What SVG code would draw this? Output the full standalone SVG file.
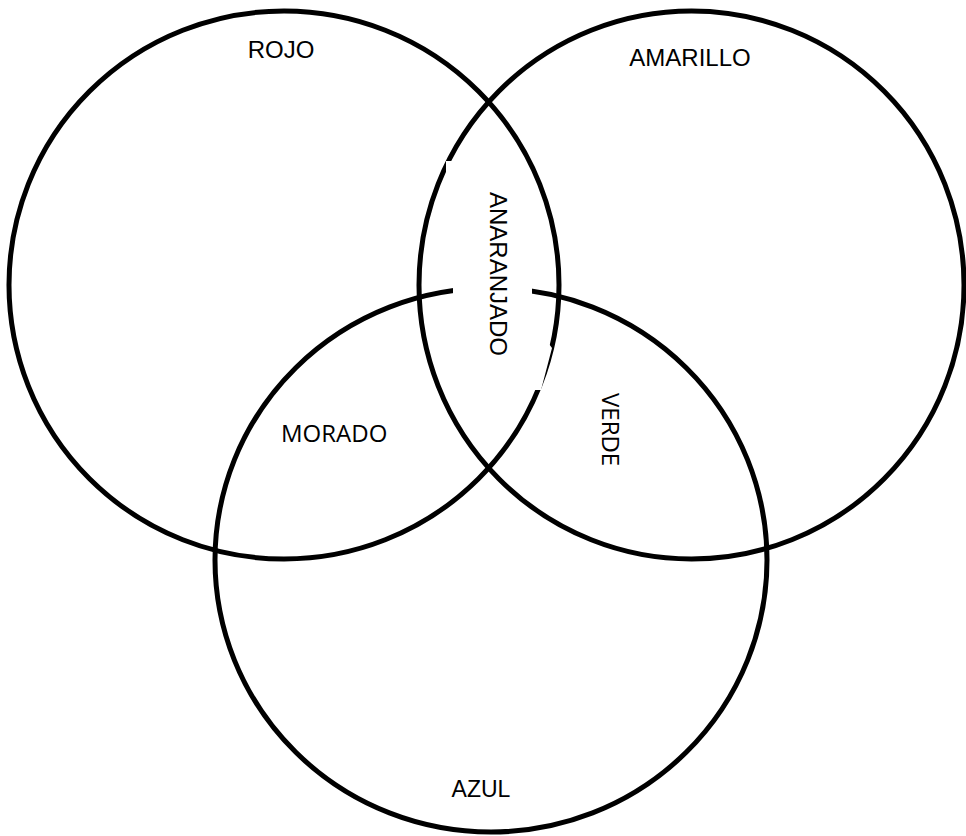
<svg xmlns="http://www.w3.org/2000/svg" width="966" height="836" viewBox="0 0 966 836">
<style>
.ring{fill:none;stroke:#000;stroke-width:5}
.lbl{font-family:"Liberation Sans",Arial,sans-serif;fill:#000}
.lbl2{font-family:"Open Sans","Noto Sans",sans-serif;fill:#000}
.mask{fill:#fff;stroke:none}
</style>
<rect width="966" height="836" fill="#fff"/>
<g id="rojo">
<ellipse class="ring" cx="284" cy="285" rx="275" ry="274"/>
</g>
<g id="amarillo">
<ellipse class="ring" cx="691.5" cy="285" rx="272.5" ry="274"/>
</g>
<polygon class="mask" points="446,161 523,161 549,344 552,348 541,390 446,390"/>
<g id="azul">
<ellipse class="ring" cx="491" cy="560" rx="276" ry="272"/>
</g>
<rect class="mask" x="453" y="278" width="79" height="24"/>
<g id="labels">
<text class="lbl" x="281" y="58" font-size="24" text-anchor="middle">ROJO</text>
<text class="lbl" x="690" y="66" font-size="24" text-anchor="middle">AMARILLO</text>
<text class="lbl" x="481" y="797" font-size="23" text-anchor="middle">AZUL</text>
<text class="lbl" font-size="24" transform="translate(490,192) rotate(90)">ANARANJADO</text>
<text class="lbl2" x="281" y="442" font-size="24">MORADO</text>
<text class="lbl2" font-size="24" transform="translate(602,393) rotate(90)">VERDE</text>
</g>
</svg>
